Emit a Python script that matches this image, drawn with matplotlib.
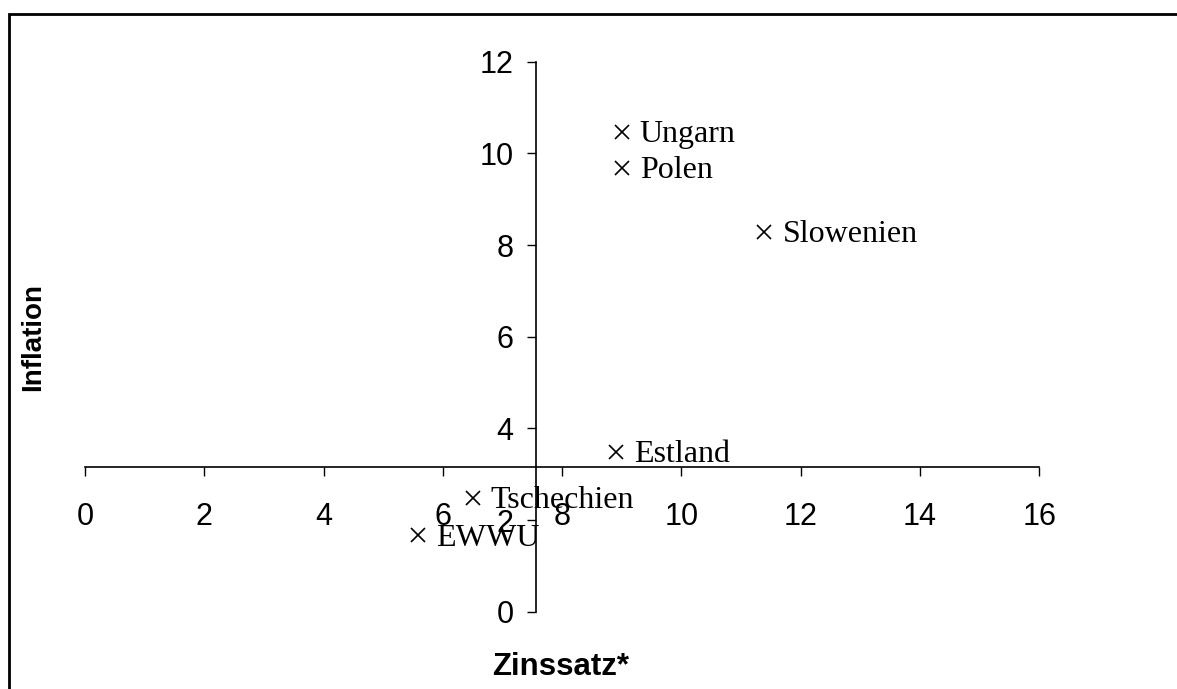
import numpy as np
import matplotlib
matplotlib.use('Agg')
import matplotlib.pyplot as plt
from matplotlib.patches import Rectangle

laender = ['Ungarn', 'Polen', 'Slowenien', 'Estland', 'Tschechien', 'EWWU']
zinssatz = [9.0, 9.0, 11.39, 8.9, 6.5, 5.59]
inflation = [10.47, 9.69, 8.29, 3.49, 2.49, 1.67]

x_ticks = [0, 2, 4, 6, 8, 10, 12, 14, 16]
y_ticks = [0, 2, 4, 6, 8, 10, 12]

# wo sich die Achsen kreuzen
x_kreuz = 7.57
y_kreuz = 3.16

plt.rcParams['font.family'] = ['Liberation Sans', 'DejaVu Sans']

fig = plt.figure(figsize=(11.77, 6.89), dpi=100)
ax = fig.add_axes([0.0722, 0.1122, 0.8108, 0.7983])

ax.plot(zinssatz, inflation, 'x', color='black', markersize=9.5, markeredgewidth=1.2)
for name, xv, yv in zip(laender, zinssatz, inflation):
    ax.annotate(name, (xv, yv), xytext=(13, -7.5), textcoords='offset points',
                ha='left', va='baseline', fontsize=23, family='Liberation Serif')

ax.set_xlim(0, 16)
ax.set_ylim(0, 12)
ax.set_xticks(x_ticks)
ax.set_yticks(y_ticks)

ax.spines['top'].set_visible(False)
ax.spines['right'].set_visible(False)
ax.spines['left'].set_position(('data', x_kreuz))
ax.spines['bottom'].set_position(('data', y_kreuz))
ax.spines['left'].set_linewidth(1.2)
ax.spines['bottom'].set_linewidth(1.2)

ax.tick_params(axis='x', direction='out', length=6.5, width=1.0, pad=19, labelsize=22)
ax.tick_params(axis='y', direction='out', length=6.5, width=1.0, pad=10, labelsize=22)

fig.text(561 / 1177, 1 - 667 / 689, 'Zinssatz*', ha='center', va='center',
         fontsize=22.5, fontweight='bold')
fig.text(33 / 1177, 1 - 337 / 689, 'Inflation', ha='center', va='center',
         rotation=90, fontsize=20, fontweight='bold')

# Rahmen um das Diagramm (rechts und unten ausserhalb des Bildes)
rahmen = Rectangle((9 / 1177, -0.1), 1.2, 1.1 - 14 / 689, transform=fig.transFigure,
                   fill=False, edgecolor='black', linewidth=2)
fig.patches.append(rahmen)

fig.savefig('out.png', dpi=100)
